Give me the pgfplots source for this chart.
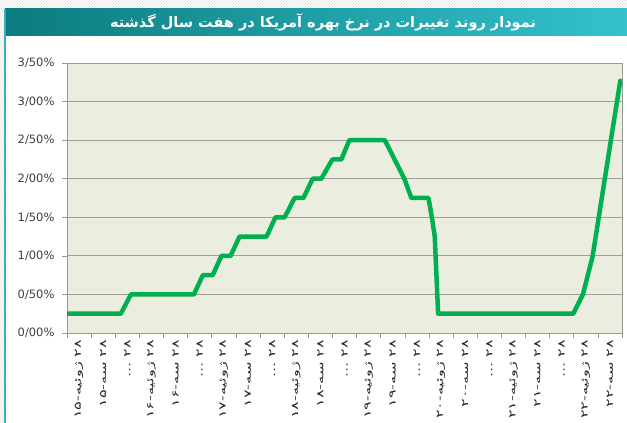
\documentclass[border=0pt]{standalone}
\usepackage{pgfplots}
\pgfplotsset{compat=1.18}
\usepackage{fontspec}
\setmainfont{DejaVu Sans}
\newfontfamily\arabicfont[Script=Arabic]{DejaVu Sans}
\newfontfamily\labfont[Script=Arabic, FakeStretch=1.7]{DejaVu Sans}
\TeXXeTstate=1
\usetikzlibrary{patterns}
\definecolor{plotbg}{HTML}{EBEEDF}
\definecolor{linegreen}{HTML}{00B050}
\definecolor{tealL}{HTML}{0B7C7F}
\definecolor{tealR}{HTML}{33C2CC}
\definecolor{tealline}{HTML}{3AAFB9}
\begin{document}
\begin{tikzpicture}[x=1pt,y=1pt]
\path[use as bounding box] (0,0) rectangle (627,423);
\fill[white] (0,0) rectangle (627,423);
\fill[pattern=north east lines, pattern color=gray!25] (0,414) rectangle (627,423);
\fill[pattern=north east lines, pattern color=gray!25] (0,0) rectangle (4,414);
\shade[left color=tealL, right color=tealR] (5,387) rectangle (627,414);
\fill[tealline] (4.2,0) rectangle (5.8,414);
\node[text=white, font=\arabicfont\bfseries\fontsize{14.5}{16}\selectfont] at (323,401) {\beginR نمودار روند تغییرات در نرخ بهره آمریکا در هفت سال گذشته\endR};
\begin{axis}[
  at={(67pt,90pt)}, anchor=south west,
  scale only axis, width=555pt, height=270pt,
  xmin=0, xmax=23, ymin=0, ymax=3.5,
  axis background/.style={fill=plotbg},
  axis line style={gray!80},
  tick style={gray!80, line width=0.6pt},
  tick align=outside, major tick length=5pt,
  xtick pos=left, ytick pos=left,
  ymajorgrids, major grid style={gray!75, line width=0.8pt},
  ytick={0,0.5,...,3.5},
  yticklabels={0/00\%,0/50\%,1/00\%,1/50\%,2/00\%,2/50\%,3/00\%,3/50\%},
  yticklabel style={font=\fontsize{11.5}{12}\selectfont, text=black!75, xshift=-4pt},
  xtick={0,...,23},
  x tick label as interval,
  xticklabel style={rotate=90, anchor=east, font=\labfont\fontsize{9.5}{10}\selectfont, text=black!85, inner sep=1.5pt},
  xticklabels={
    {{\labfont\beginR ۲۸ ژوئیه-۱۵\endR}},{{\labfont\beginR ۲۸ سه-۱۵\endR}},{{\labfont\beginR ۲۸ ...\endR}},
    {{\labfont\beginR ۲۸ ژوئیه-۱۶\endR}},{{\labfont\beginR ۲۸ سه-۱۶\endR}},{{\labfont\beginR ۲۸ ...\endR}},
    {{\labfont\beginR ۲۸ ژوئیه-۱۷\endR}},{{\labfont\beginR ۲۸ سه-۱۷\endR}},{{\labfont\beginR ۲۸ ...\endR}},
    {{\labfont\beginR ۲۸ ژوئیه-۱۸\endR}},{{\labfont\beginR ۲۸ سه-۱۸\endR}},{{\labfont\beginR ۲۸ ...\endR}},
    {{\labfont\beginR ۲۸ ژوئیه-۱۹\endR}},{{\labfont\beginR ۲۸ سه-۱۹\endR}},{{\labfont\beginR ۲۸ ...\endR}},
    {{\labfont\beginR ۲۸ ژوئیه-۲۰\endR}},{{\labfont\beginR ۲۸ سه-۲۰\endR}},{{\labfont\beginR ۲۸ ...\endR}},
    {{\labfont\beginR ۲۸ ژوئیه-۲۱\endR}},{{\labfont\beginR ۲۸ سه-۲۱\endR}},{{\labfont\beginR ۲۸ ...\endR}},
    {{\labfont\beginR ۲۸ ژوئیه-۲۲\endR}},{{\labfont\beginR ۲۸ سه-۲۲\endR}},{}
  },
]
\addplot[linegreen, line width=4.5pt, line join=round, line cap=round] coordinates {
(0,0.25) (2.23,0.25) (2.65,0.5) (5.26,0.5) (5.63,0.75) (6.04,0.75)
(6.40,1.0) (6.78,1.0) (7.15,1.25) (8.27,1.25) (8.64,1.5) (9.02,1.5)
(9.43,1.75) (9.80,1.75) (10.18,2.0) (10.54,2.0) (11.0,2.25) (11.37,2.25)
(11.70,2.5) (13.17,2.5) (13.98,2.0) (14.27,1.75) (14.98,1.75) (15.12,1.5)
(15.24,1.25) (15.38,0.25) (20.98,0.25) (21.38,0.5) (21.78,0.99) (22.55,2.52) (22.93,3.27)
};
\end{axis}
\end{tikzpicture}
\end{document}
